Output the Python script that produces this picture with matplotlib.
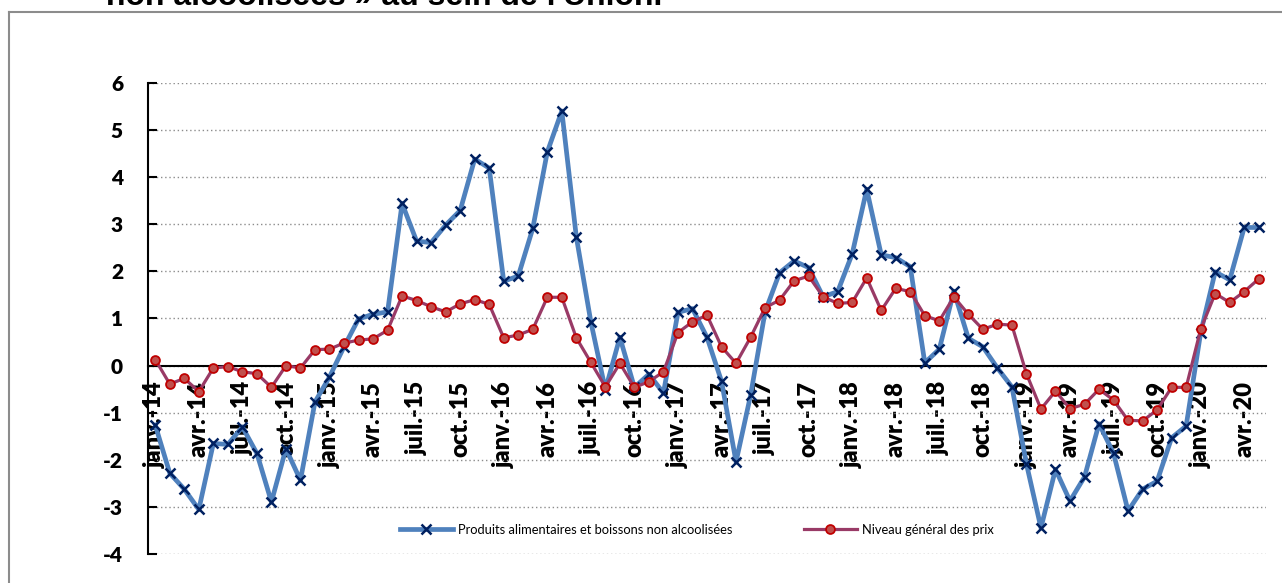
import matplotlib.pyplot as plt
from matplotlib.lines import Line2D

# monthly series, janv.-14 .. mai-20
food = [-1.26, -2.28, -2.62, -3.05, -1.65, -1.67, -1.30, -1.86, -2.89, -1.76,
        -2.43, -0.77, -0.24, 0.40, 0.99, 1.09, 1.14, 3.44, 2.64, 2.61,
        2.98, 3.29, 4.38, 4.19, 1.79, 1.90, 2.91, 4.53, 5.40, 2.73,
        0.93, -0.51, 0.60, -0.46, -0.18, -0.58, 1.13, 1.21, 0.60, -0.33,
        -2.04, -0.63, 1.14, 1.97, 2.22, 2.08, 1.46, 1.57, 2.37, 3.74,
        2.35, 2.29, 2.10, 0.06, 0.35, 1.58, 0.58, 0.40, -0.05, -0.45,
        -2.08, -3.44, -2.20, -2.87, -2.36, -1.23, -1.86, -3.08, -2.62, -2.45,
        -1.53, -1.28, 0.70, 1.99, 1.82, 2.93, 2.93]
general = [0.13, -0.39, -0.27, -0.55, -0.05, -0.02, -0.13, -0.17, -0.46, 0.00,
           -0.05, 0.34, 0.35, 0.48, 0.54, 0.57, 0.75, 1.48, 1.38, 1.25,
           1.14, 1.31, 1.40, 1.30, 0.59, 0.65, 0.77, 1.45, 1.45, 0.59,
           0.07, -0.45, 0.05, -0.46, -0.34, -0.13, 0.70, 0.93, 1.07, 0.40,
           0.05, 0.60, 1.23, 1.39, 1.80, 1.90, 1.46, 1.32, 1.34, 1.86,
           1.17, 1.64, 1.57, 1.06, 0.95, 1.46, 1.09, 0.77, 0.88, 0.86,
           -0.17, -0.92, -0.54, -0.91, -0.82, -0.50, -0.73, -1.16, -1.17, -0.94,
           -0.46, -0.46, 0.77, 1.53, 1.34, 1.57, 1.84]

month_names = ['janv.', 'avr.', 'juil.', 'oct.']
years = ['14', '15', '16', '17', '18', '19', '20']
tick_labels = [m + '-' + y for y in years for m in month_names][:26]

label_food = 'Produits alimentaires et boissons non alcoolisées'
label_general = 'Niveau général des prix'
title = "non alcoolisées » au sein de l'Union."

plt.rcParams['font.family'] = ['Lato', 'DejaVu Sans']
plt.rcParams['axes.unicode_minus'] = False

fig = plt.figure(figsize=(12.82, 5.83), dpi=100)
ax = fig.add_axes([148 / 1282, 28.7 / 583, 1118 / 1282, 471.6 / 583])

# spine position first: it resets the ticks
for s in ['top', 'right']:
    ax.spines[s].set_visible(False)
ax.spines['bottom'].set_position(('data', 0))
ax.spines['bottom'].set_linewidth(1.5)
ax.spines['left'].set_linewidth(1.5)

x = list(range(len(food)))
ax.plot(x, food, color='#4F81BD', lw=3.4, marker='x', ms=6.5, mew=1.8,
        mec='#002060', label=label_food, zorder=3)
ax.plot(x, general, color='#993A66', lw=2.3, marker='o', ms=6.4, mew=1.3,
        mfc='#C0504D', mec='#C00000', label=label_general, zorder=4)

ax.set_xlim(-0.5, len(food) - 0.5)
ax.set_ylim(-4, 6)
ax.set_yticks(range(-4, 7))
ax.yaxis.grid(True, color='#8C8C8C', ls=(0, (1, 2)), lw=1.0)
ax.set_axisbelow(True)

ax.set_xticks(range(0, len(food), 3))
ax.set_xticklabels(tick_labels, rotation=90, fontweight='heavy', fontsize=17)
ax.tick_params(axis='x', length=0, pad=11)
ax.tick_params(axis='y', direction='in', length=6.5, width=1.5, pad=18,
               labelsize=15)
for lab in ax.get_yticklabels():
    lab.set_fontweight('heavy')

ax.legend(loc='center left', bbox_to_anchor=(252 / 1118, 0.0515), ncol=2,
          frameon=False, fontsize=9.3, handlelength=4.1, handletextpad=0.4,
          columnspacing=5.5, borderpad=0, borderaxespad=0)

# outer frame of the chart area (cut by the image border)
fig.add_artist(Line2D([9 / 1282, 9 / 1282], [0, 1 - 11.5 / 583],
                      color='#8C8C8C', lw=1.5, transform=fig.transFigure))
fig.add_artist(Line2D([9 / 1282, 1], [1 - 11.5 / 583, 1 - 11.5 / 583],
                      color='#8C8C8C', lw=1.5, transform=fig.transFigure))

fig.text(106 / 1282, 1 - 4.7 / 583, title, family='Liberation Sans',
         fontweight='bold', fontsize=23, va='baseline', ha='left')

fig.savefig('out.png', dpi=100)
